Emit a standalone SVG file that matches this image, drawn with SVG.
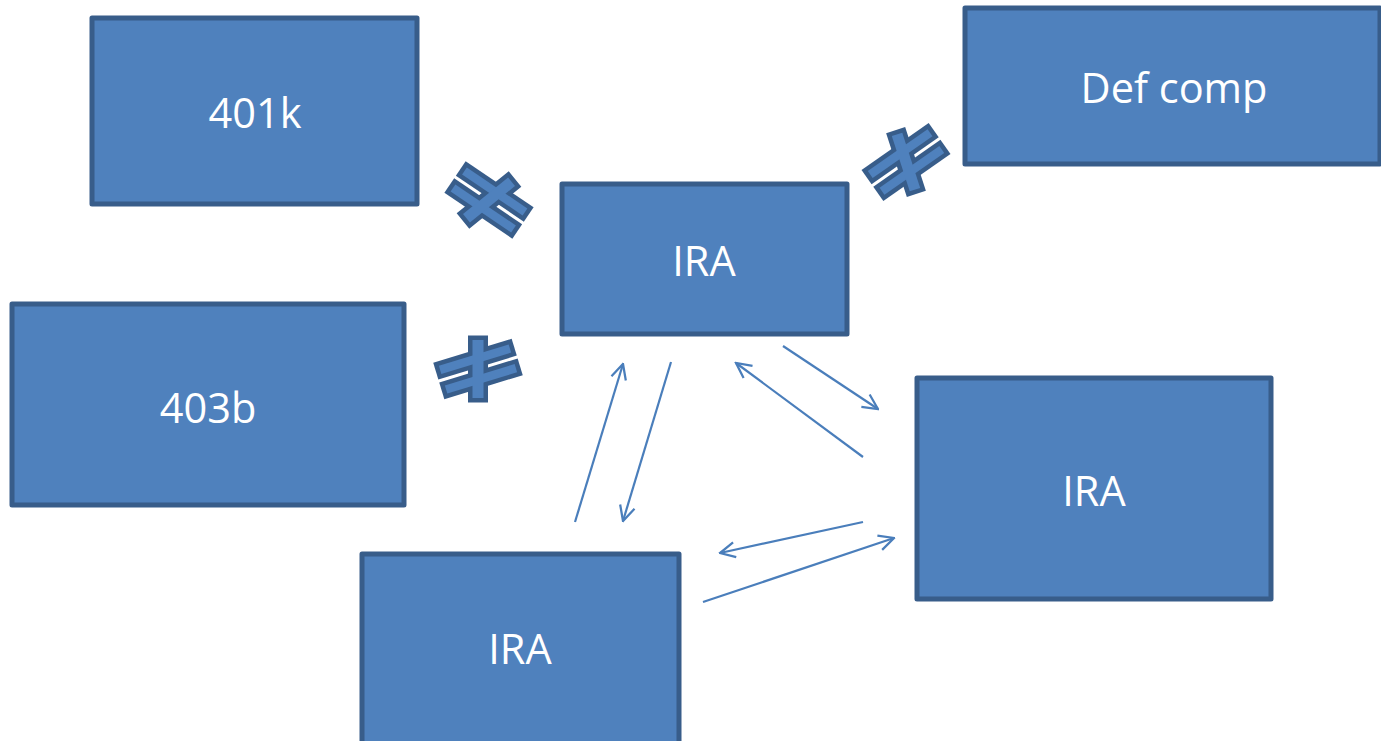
<svg xmlns="http://www.w3.org/2000/svg" xmlns:xlink="http://www.w3.org/1999/xlink" width="1381" height="741" viewBox="0 0 1381 741">
  <style>
    .box { fill: #4F81BD; stroke: #385D8A; stroke-width: 5; stroke-linejoin: round; }
    .label { fill: #FFFFFF; font-family: "Open Sans", "Liberation Sans", sans-serif; font-size: 41.5px; text-anchor: middle; }
    .link { fill: none; stroke: #4A7EBB; stroke-width: 2.2; marker-end: url(#open); }
  </style>
  <defs>
    <marker id="open" viewBox="0 0 12 12" refX="11" refY="6" markerWidth="18" markerHeight="18" markerUnits="userSpaceOnUse" orient="auto">
      <path d="M1,1 L11,6 L1,11" fill="none" stroke="#4A7EBB" stroke-width="1.5"/>
    </marker>
    <!-- not-equal sign: two bars and a slash, outline drawn first, fill on top -->
    <g id="neq-shape">
      <rect x="-36.5" y="-14.5" width="73" height="8.5"/>
      <rect x="-36.5" y="6" width="73" height="8.5"/>
      <rect x="-5.5" y="-29" width="11" height="58" transform="rotate(17)"/>
    </g>
    <g id="neq-line"><use xlink:href="#neq-shape" fill="#385D8A" stroke="#385D8A" stroke-width="9" stroke-linejoin="miter"/></g>
    <g id="neq-fill"><use xlink:href="#neq-shape" fill="#4F81BD"/></g>
  </defs>

  <rect width="1381" height="741" fill="#FFFFFF"/>

  <g id="node-401k">
    <rect class="box" x="92" y="18" width="325" height="186"/>
    <text class="label" x="255" y="128">401k</text>
  </g>
  <g id="node-defcomp">
    <rect class="box" x="965" y="8" width="415" height="156"/>
    <text class="label" x="1174" y="103">Def comp</text>
  </g>
  <g id="node-ira-top">
    <rect class="box" x="562" y="184" width="285" height="150"/>
    <text class="label" x="704" y="276">IRA</text>
  </g>
  <g id="node-403b">
    <rect class="box" x="12" y="304" width="392" height="201"/>
    <text class="label" x="208" y="423">403b</text>
  </g>
  <g id="node-ira-right">
    <rect class="box" x="917" y="378" width="354" height="221"/>
    <text class="label" x="1094" y="506">IRA</text>
  </g>
  <g id="node-ira-bottom">
    <rect class="box" x="362" y="554" width="317" height="195"/>
    <text class="label" x="520" y="664">IRA</text>
  </g>

  <g id="not-equal-signs">
    <use xlink:href="#neq-line" transform="translate(489,200) rotate(34)"/>
    <use xlink:href="#neq-fill" transform="translate(489,200) rotate(34)"/>
    <use xlink:href="#neq-line" transform="translate(906,162) rotate(-35)"/>
    <use xlink:href="#neq-fill" transform="translate(906,162) rotate(-35)"/>
    <use xlink:href="#neq-line" transform="translate(478,369) rotate(-17)"/>
    <use xlink:href="#neq-fill" transform="translate(478,369) rotate(-17)"/>
  </g>

  <g id="connectors">
    <line class="link" x1="575" y1="522" x2="623" y2="364"/>
    <line class="link" x1="671" y1="362" x2="623" y2="521"/>
    <line class="link" x1="783" y1="346" x2="878" y2="409"/>
    <line class="link" x1="863" y1="457" x2="736" y2="363"/>
    <line class="link" x1="863" y1="522" x2="720" y2="553"/>
    <line class="link" x1="703" y1="602" x2="894" y2="538"/>
  </g>
</svg>
